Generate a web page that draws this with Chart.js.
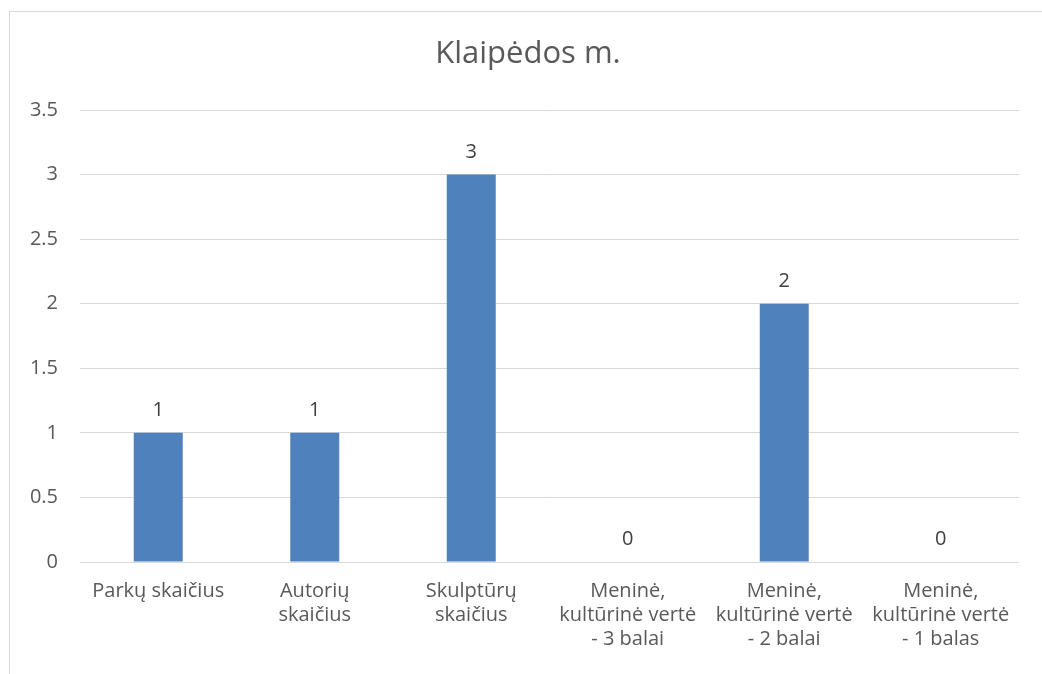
<!DOCTYPE html>
<html>
<head>
<meta charset="utf-8">
<script src="https://cdn.jsdelivr.net/npm/chart.js@4"></script>
<style>
  body { margin: 0; background: #fff; }
  #frame {
    position: absolute; left: 9px; top: 11px;
    width: 1033px; height: 663px;
    border-left: 1px solid #d9d9d9; border-top: 1px solid #d9d9d9;
  }
</style>
</head>
<body>
<div id="frame"><canvas id="chartBar" width="1032" height="662"></canvas></div>
<script>
const categories = [
    "Parkų skaičius",
    ["Autorių", "skaičius"],
    ["Skulptūrų", "skaičius"],
    ["Meninė,", "kultūrinė vertė", "- 3 balai"],
    ["Meninė,", "kultūrinė vertė", "- 2 balai"],
    ["Meninė,", "kultūrinė vertė", "- 1 balas"]
]
const values = [1, 1, 3, 0, 2, 0]
const yTicks = [0, 0.5, 1, 1.5, 2, 2.5, 3, 3.5]
const chartTitle = "Klaipėdos m."

const fontName = "'Open Sans', sans-serif"
const textColor = "#595959"

// title (centred on the whole chart box, not the padded area) and value labels
const barLabels = {
    id: "barLabels",
    afterDatasetsDraw(chart) {
        const ctx = chart.ctx
        const meta = chart.getDatasetMeta(0)
        ctx.save()
        ctx.textAlign = "center"
        ctx.textBaseline = "alphabetic"
        ctx.font = "31px " + fontName
        ctx.fillStyle = textColor
        ctx.fillText(chartTitle, 518, 51)
        ctx.font = "20px " + fontName
        ctx.fillStyle = "#404040"
        meta.data.forEach(function (bar, i) {
            ctx.fillText(values[i], bar.x, bar.y - 17)
        })
        ctx.restore()
    }
}

const configBar = {
    type: "bar",
    data: {
        labels: categories,
        datasets: [{
            data: values,
            backgroundColor: "#4f81bd",
            categoryPercentage: 1,
            barPercentage: 0.313
        }]
    },
    options: {
        responsive: false,
        animation: false,
        layout: { padding: { left: 0, right: 23, top: 98, bottom: 0 } },
        plugins: {
            legend: { display: false },
            tooltip: { enabled: false },
            title: { display: false }
        },
        scales: {
            x: {
                grid: { display: false },
                border: { display: false },
                ticks: {
                    color: textColor,
                    font: { family: fontName, size: 20, lineHeight: 1.2 },
                    padding: 9,
                    maxRotation: 0,
                    autoSkip: false
                },
                afterFit: function (scale) { scale.height = 112 }
            },
            y: {
                min: 0,
                max: 3.5,
                afterBuildTicks: function (scale) {
                    scale.ticks = yTicks.map(function (v) { return { value: v } })
                },
                grid: { color: "#d9d9d9", lineWidth: 1, drawTicks: false },
                border: { display: false },
                ticks: {
                    color: textColor,
                    font: { family: fontName, size: 20 },
                    padding: 22,
                    callback: function (v) { return String(v) }
                },
                afterFit: function (scale) { scale.width = 70 }
            }
        }
    },
    plugins: [barLabels]
}

var chartBar = new Chart(document.getElementById("chartBar"), configBar)
</script>
</body>
</html>
